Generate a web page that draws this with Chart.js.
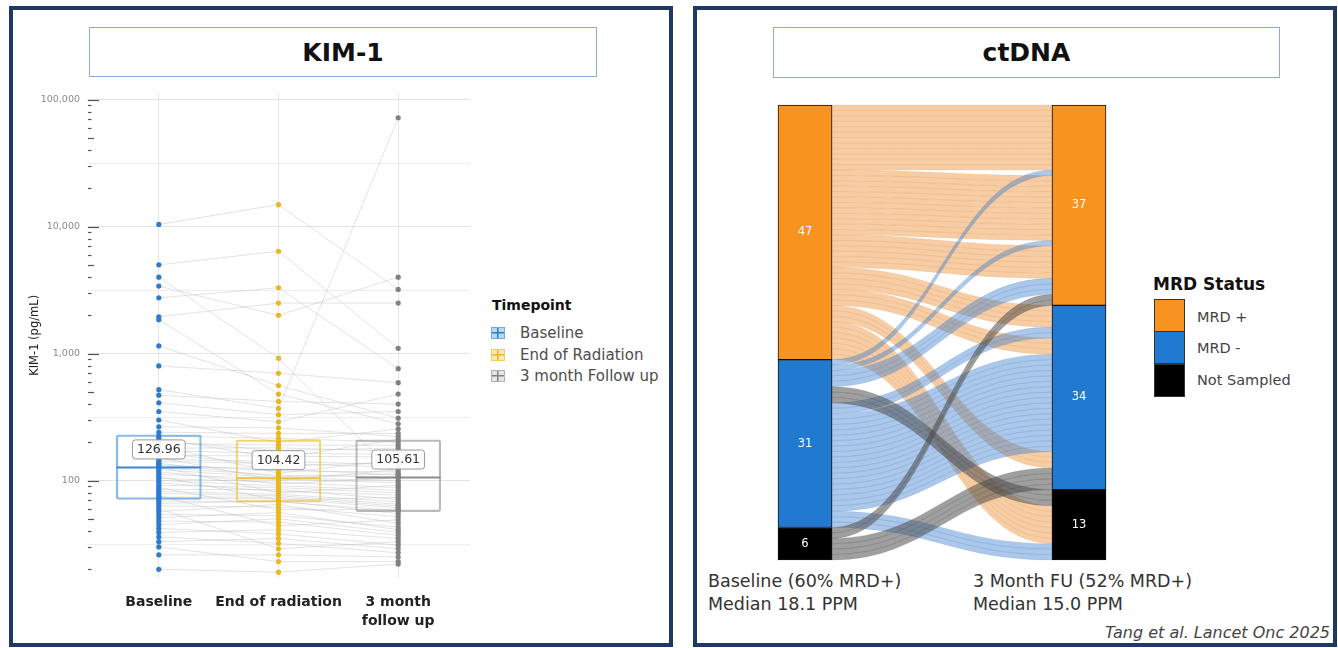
<!DOCTYPE html>
<html lang="en">
<head>
<meta charset="utf-8">
<title>KIM-1 and ctDNA</title>
<script src="https://cdn.jsdelivr.net/npm/chart.js@4.4.1/dist/chart.umd.min.js"></script>
<style>
  html, body { margin: 0; padding: 0; background: #fff; }
  body { width: 1338px; height: 648px; position: relative; overflow: hidden;
         font-family: "DejaVu Sans", sans-serif; color: #222; }
  .frame { position: absolute; border: 4px solid #1f3864; box-sizing: border-box; }
  .title-box { position: absolute; box-sizing: border-box; border: 1.5px solid #8eaadb;
               display: flex; align-items: center; justify-content: center;
               font-weight: bold; font-size: 25px; color: #111; }
  .txt { position: absolute; white-space: nowrap; }
  canvas { position: absolute; }
  .key { position: absolute; width: 14px; height: 12px; box-sizing: border-box; border: 1.5px solid; }
  .swatch { position: absolute; left: 1154px; width: 31px; box-sizing: border-box; border: 1.5px solid #333; }
</style>
</head>
<body>
<div class="frame" style="left:9px;top:6px;width:664px;height:641px"></div>
<div class="frame" style="left:693px;top:6px;width:644px;height:641px"></div>
<div class="title-box" style="left:89px;top:27px;width:508px;height:50px">KIM-1</div>
<div class="title-box" style="left:773px;top:27px;width:507px;height:51px">ctDNA</div>

<canvas id="kimChart" width="480" height="560" style="left:0;top:80px"></canvas>
<canvas id="ctdnaChart" width="340" height="470" style="left:770px;top:100px"></canvas>

<div id="kimLegend"></div>
<div id="mrdLegend"></div>
<div id="ctdnaNotes"></div>
<div class="txt" style="right:8px;top:623px;font-style:italic;font-size:16px;line-height:20px;color:#444">Tang et al. Lancet Onc 2025</div>

<script>
// ---------------- KIM-1 (pg/mL), one entry per patient ----------------
const timepointNames = ['Baseline', 'End of Radiation', '3 month Follow up'];
const axisCategoryLabels = [['Baseline'], ['End of radiation'], ['3 month', 'follow up']];

const kimBaseline = [10400, 5000, 4000, 3400, 2750, 1950, 1850, 1150, 800, 520, 470, 410, 350, 300, 265, 240,
  225, 215, 205, 196, 188, 180, 172, 165, 158, 152, 146, 141, 137, 133, 130, 128,
  126, 122, 117, 112, 108, 104, 100, 96, 92, 88, 85, 82, 79, 76, 74, 72,
  69, 66, 63, 60, 57, 54, 51, 48, 45, 42, 39, 36, 33, 30, 26, 20];

const kimEndOfRadiation = [14900, 6400, 920, 2000, 3300, 2500, 480, 560, 700, 370, 420, 330, 290, 200, 260, 235,
  215, 149, 172, 190, 114, 181, 164, 130, 156, 100, 142, 136, 107, 119, 124, 80,
  110, 105, 94, 103, 70, 97, 91, 82, 88, 59, 85, 78, 76, 44, 74, 72,
  68, 69, 62, 29, 65, 53, 56, 47, 50, 38, 41, 32, 35, 23, 26, 19];

const kimFollowUp = [3200, 1100, 107, 4000, 760, 2500, 280, 310, 590, 72000, 400, 350, 480, 255, 222, 235,
  200, 212, 180, 190, 146, 170, 161, 139, 153, 122, 133, 127, 113, 117, 110, 92,
  106, 100, 105, 96, 74, 88, 84, 77, 80, 59, 71, 68, 65, 49, 63, 61,
  58, 55, 52, 33, 46, 43, 41, 37, 39, 31, 35, 27, 29, 23, 25, 22];

// box summaries per timepoint
const boxQ1 = [71, 67.6, 57];
const boxMedian = [126.96, 104.42, 105.61];
const boxQ3 = [229, 209, 209];

// y gridlines: decades (labelled) and half-decades
const yGridValues = [31.6228, 100, 316.228, 1000, 3162.28, 10000, 31622.8, 100000];

// ---------------- ctDNA MRD status ----------------
const mrdStatus = ['MRD +', 'MRD -', 'Not Sampled'];
const sankeyColumns = ['Baseline', '3 Month FU'];
const baselineCounts = [47, 31, 6];
const followUpCounts = [37, 34, 13];
const medianPPM = [18.1, 15.0];

// patient groups in baseline stacking order (0 = MRD +, 1 = MRD -, 2 = not sampled)
const groupFrom  = [0, 0, 0, 0, 0, 0, 0, 1, 1, 1, 1, 1, 1, 1, 2, 2];
const groupTo    = [0, 0, 0, 1, 1, 1, 2, 0, 0, 0, 2, 1, 1, 2, 0, 1];
const groupSize  = [12, 12, 6, 4, 3, 3, 7, 1, 1, 3, 3, 2, 18, 3, 2, 4];
const groupShade = [0, 0, 0, 0, 0, 0, 0, 1, 1, 1, 2, 1, 1, 1, 2, 2];
// stacking order of the groups in the follow-up column
const groupFollowUpOrder = [0, 7, 1, 8, 2, 9, 14, 3, 11, 4, 12, 5, 15, 10, 6, 13];

// ---------------- styling ----------------
Chart.defaults.font.family = '"DejaVu Sans", sans-serif';
const pointColors = ['#2b7bcf', '#ebb81b', '#818181'];
const boxEdge = ['rgba(60,140,215,0.6)', 'rgba(238,190,40,0.65)', 'rgba(140,140,140,0.6)'];
const medianEdge = ['#3d88d6', '#eec240', '#8c8c8c'];
const keyFill = ['rgba(60,140,215,0.35)', 'rgba(238,190,40,0.35)', 'rgba(170,170,170,0.3)'];

const statusColors = ['#f7931e', '#2279d0', '#000000'];
const ribbonFill = ['rgba(238,150,66,0.48)', 'rgba(55,125,205,0.42)', 'rgba(70,70,70,0.52)'];
const ribbonEdge = ['rgba(220,130,45,0.22)', 'rgba(40,100,180,0.2)', 'rgba(60,60,60,0.25)'];
const sankeyBarWidth = 54;

// ---------------- KIM-1 chart ----------------
const kimSeries = [kimBaseline, kimEndOfRadiation, kimFollowUp];
const patientPaths = [];
kimBaseline.forEach((_, p) => {
  kimSeries.forEach((series, t) => patientPaths.push({ x: t + 1, y: series[p] }));
  patientPaths.push({ x: 3.5, y: null });
});

const logTicks = {
  id: 'logTicks',
  beforeDatasetsDraw(chart) {
    const { ctx, chartArea } = chart;
    const y = chart.scales.y;
    ctx.save();
    ctx.strokeStyle = '#555';
    ctx.lineWidth = 1.2;
    for (let k = 1; k <= 5; k++) {
      for (let m = 1; m <= 9; m++) {
        const v = m * Math.pow(10, k);
        if (v < y.min || v > y.max) continue;
        const py = Math.round(y.getPixelForValue(v)) + 0.5;
        const len = m === 1 ? 11 : (m === 5 ? 6 : 3.5);
        ctx.beginPath();
        ctx.moveTo(chartArea.left + 1, py);
        ctx.lineTo(chartArea.left + 1 + len, py);
        ctx.stroke();
      }
    }
    ctx.restore();
  }
};

const medianLabels = {
  id: 'medianLabels',
  afterDatasetsDraw(chart) {
    const { ctx } = chart;
    const xs = chart.scales.x, ys = chart.scales.y;
    ctx.save();
    ctx.font = '12.5px "DejaVu Sans"';
    ctx.textAlign = 'center';
    ctx.textBaseline = 'middle';
    boxMedian.forEach((m, t) => {
      const cx = xs.getPixelForValue(t + 1);
      const cy = ys.getPixelForValue(m) - 18;
      const text = m.toFixed(2);
      const w = ctx.measureText(text).width + 9;
      const h = 19;
      ctx.beginPath();
      ctx.roundRect(cx - w / 2, cy - h / 2, w, h, 3);
      ctx.fillStyle = 'rgba(255,255,255,0.92)';
      ctx.fill();
      ctx.strokeStyle = '#9a9a9a';
      ctx.lineWidth = 1;
      ctx.stroke();
      ctx.fillStyle = '#333';
      ctx.fillText(text, cx, cy + 0.5);
    });
    ctx.restore();
  }
};

new Chart(document.getElementById('kimChart'), {
  type: 'scatter',
  data: {
    datasets: [
      ...kimSeries.map((series, t) => ({
        type: 'scatter',
        label: timepointNames[t],
        data: series.map(v => ({ x: t + 1, y: v })),
        backgroundColor: pointColors[t],
        borderWidth: 0,
        pointRadius: 2.6,
        order: 1
      })),
      {
        type: 'scatter',
        label: 'median',
        data: boxMedian.map((m, t) => ({ x: t + 1, y: m })),
        pointStyle: 'line',
        pointRadius: 42.5,
        pointBorderColor: medianEdge,
        pointBorderWidth: 2,
        order: 1.5
      },
      {
        type: 'bar',
        label: 'IQR',
        data: boxQ1.map((q, t) => ({ x: t + 1, y: [q, boxQ3[t]] })),
        backgroundColor: 'rgba(0,0,0,0)',
        borderColor: boxEdge,
        borderWidth: 1.5,
        borderSkipped: false,
        borderRadius: 2,
        barThickness: 85,
        grouped: false,
        order: 2
      },
      {
        type: 'line',
        label: 'patients',
        data: patientPaths,
        borderColor: 'rgba(185,185,185,0.45)',
        borderWidth: 0.9,
        pointRadius: 0,
        spanGaps: false,
        order: 3
      }
    ]
  },
  options: {
    responsive: false,
    devicePixelRatio: 1,
    animation: false,
    events: [],
    layout: { autoPadding: false, padding: { left: 0, right: 10, top: 10, bottom: 0 } },
    plugins: { legend: { display: false }, tooltip: { enabled: false } },
    scales: {
      x: {
        type: 'linear', min: 0.4, max: 3.6, bounds: 'data', offset: false,
        afterBuildTicks: s => { s.ticks = axisCategoryLabels.map((_, i) => ({ value: i + 1 })); },
        afterFit: s => { s.height = 62; },
        border: { display: false },
        grid: { color: '#e6e6e6', lineWidth: 1, drawTicks: false, offset: false },
        ticks: {
          autoSkip: false, maxRotation: 0, minRotation: 0, padding: 15,
          color: '#222',
          font: { weight: 'bold', size: 14, lineHeight: 1.36 },
          callback: v => axisCategoryLabels[Math.round(v) - 1]
        }
      },
      y: {
        type: 'logarithmic', min: 17.08, max: 113450, bounds: 'data',
        afterBuildTicks: s => { s.ticks = yGridValues.map(v => ({ value: v })); },
        afterFit: s => { s.width = 87; },
        border: { display: false },
        grid: {
          drawTicks: false,
          color: c => (Math.abs(Math.log10(c.tick.value) % 1) < 1e-6 ? '#e4e4e4' : '#eeeeee'),
          lineWidth: 1
        },
        ticks: {
          autoSkip: false, padding: 7, color: '#8a8a8a',
          font: { size: 9.5 },
          callback: v => (Math.abs(Math.log10(v) % 1) < 1e-6 ? Number(v).toLocaleString('en-US') : '')
        },
        title: {
          display: true, text: 'KIM-1 (pg/mL)', color: '#222',
          font: { size: 11.5 }, padding: { top: 28, bottom: 0 }
        }
      }
    }
  },
  plugins: [logTicks, medianLabels]
});

// ---------------- ctDNA alluvial chart ----------------
const totalPatients = baselineCounts.reduce((a, b) => a + b, 0);
const stackStarts = counts => counts.map((_, i) => counts.slice(0, i).reduce((a, b) => a + b, 0));
const baseStarts = stackStarts(baselineCounts);
const fuStarts = stackStarts(followUpCounts);

const ribbons = {
  id: 'ribbons',
  beforeDatasetsDraw(chart) {
    const { ctx } = chart;
    const xs = chart.scales.x, ys = chart.scales.y;
    const x0 = xs.getPixelForValue(0) + sankeyBarWidth / 2;
    const x1 = xs.getPixelForValue(1) - sankeyBarWidth / 2;
    const bend = (x1 - x0) * 0.45;
    const leftStart = [], rightStart = [];
    let acc = 0;
    groupSize.forEach((n, g) => { leftStart[g] = acc; acc += n; });
    acc = 0;
    groupFollowUpOrder.forEach(g => { rightStart[g] = acc; acc += groupSize[g]; });
    ctx.save();
    ctx.lineWidth = 0.6;
    [0, 1, 2].forEach(shade => {
      groupSize.forEach((n, g) => {
        if (groupShade[g] !== shade) return;
        for (let k = 0; k < n; k++) {
          const la = ys.getPixelForValue(leftStart[g] + k), lb = ys.getPixelForValue(leftStart[g] + k + 1);
          const ra = ys.getPixelForValue(rightStart[g] + k), rb = ys.getPixelForValue(rightStart[g] + k + 1);
          ctx.beginPath();
          ctx.moveTo(x0, la);
          ctx.bezierCurveTo(x0 + bend, la, x1 - bend, ra, x1, ra);
          ctx.lineTo(x1, rb);
          ctx.bezierCurveTo(x1 - bend, rb, x0 + bend, lb, x0, lb);
          ctx.closePath();
          ctx.fillStyle = ribbonFill[shade];
          ctx.fill();
          ctx.strokeStyle = ribbonEdge[shade];
          ctx.stroke();
        }
      });
    });
    ctx.restore();
  }
};

const barCounts = {
  id: 'barCounts',
  afterDatasetsDraw(chart) {
    const { ctx } = chart;
    ctx.save();
    ctx.font = '11.5px "DejaVu Sans"';
    ctx.fillStyle = '#fff';
    ctx.textAlign = 'center';
    ctx.textBaseline = 'middle';
    chart.data.datasets.forEach((ds, s) => {
      const meta = chart.getDatasetMeta(s);
      const counts = [baselineCounts[s], followUpCounts[s]];
      meta.data.forEach((el, j) => {
        ctx.fillText(String(counts[j]), el.x, (el.y + el.base) / 2);
      });
    });
    ctx.restore();
  }
};

new Chart(document.getElementById('ctdnaChart'), {
  type: 'bar',
  data: {
    datasets: mrdStatus.map((name, s) => ({
      label: name,
      data: [
        { x: 0, y: [baseStarts[s], baseStarts[s] + baselineCounts[s]] },
        { x: 1, y: [fuStarts[s], fuStarts[s] + followUpCounts[s]] }
      ],
      backgroundColor: statusColors[s],
      borderColor: '#111',
      borderWidth: 1,
      borderSkipped: false,
      barThickness: sankeyBarWidth,
      grouped: false,
      clip: false
    }))
  },
  options: {
    responsive: false,
    devicePixelRatio: 1,
    animation: false,
    events: [],
    layout: { autoPadding: false, padding: { left: 7, right: 5, top: 5, bottom: 10 } },
    plugins: { legend: { display: false }, tooltip: { enabled: false } },
    scales: {
      x: { type: 'linear', display: false, bounds: 'data', offset: false, grid: { offset: false },
           min: -28 / 274, max: 1 + 26 / 274 },
      y: { type: 'linear', display: false, bounds: 'data', reverse: true, min: 0, max: totalPatients }
    }
  },
  plugins: [ribbons, barCounts]
});

// ---------------- legends and notes ----------------
(function buildLegends() {
  const kl = document.getElementById('kimLegend');
  let html = '<div class="txt" style="left:492px;top:296px;font-weight:bold;font-size:14px;line-height:18px;color:#111">Timepoint</div>';
  const rows = [333, 354.5, 376];
  timepointNames.forEach((name, t) => {
    const c = pointColors[t];
    html += `<div class="key" style="left:491px;top:${rows[t] - 6}px;border-color:${boxEdge[t]};` +
      `background:linear-gradient(${c},${c}) center/100% 1.5px no-repeat,` +
      `linear-gradient(${c},${c}) center/1.5px 100% no-repeat,${keyFill[t]}"></div>`;
    html += `<div class="txt" style="left:520px;top:${rows[t] - 9}px;font-size:15px;line-height:18px;color:#4d4d4d">${name}</div>`;
  });
  kl.innerHTML = html;

  const ml = document.getElementById('mrdLegend');
  let h2 = '<div class="txt" style="left:1153px;top:273px;font-weight:bold;font-size:17px;line-height:22px;color:#111">MRD Status</div>';
  const swTop = [299, 331, 364];
  const labelY = [317, 348, 380];
  mrdStatus.forEach((name, s) => {
    h2 += `<div class="swatch" style="top:${swTop[s]}px;height:33px;background:${statusColors[s]}"></div>`;
    h2 += `<div class="txt" style="left:1197px;top:${labelY[s] - 9}px;font-size:14.5px;line-height:18px;color:#444">${name}</div>`;
  });
  ml.innerHTML = h2;

  const notes = document.getElementById('ctdnaNotes');
  const pct = c => Math.round(100 * c[0] / (c[0] + c[1]));
  const cols = [[708, baselineCounts], [973, followUpCounts]];
  notes.innerHTML = cols.map(([left, counts], i) =>
    `<div class="txt" style="left:${left}px;top:570px;font-size:17.5px;line-height:23px;color:#333">` +
    `${sankeyColumns[i]} (${pct(counts)}% MRD+)<br>Median ${medianPPM[i].toFixed(1)} PPM</div>`).join('');
})();
</script>
</body>
</html>
